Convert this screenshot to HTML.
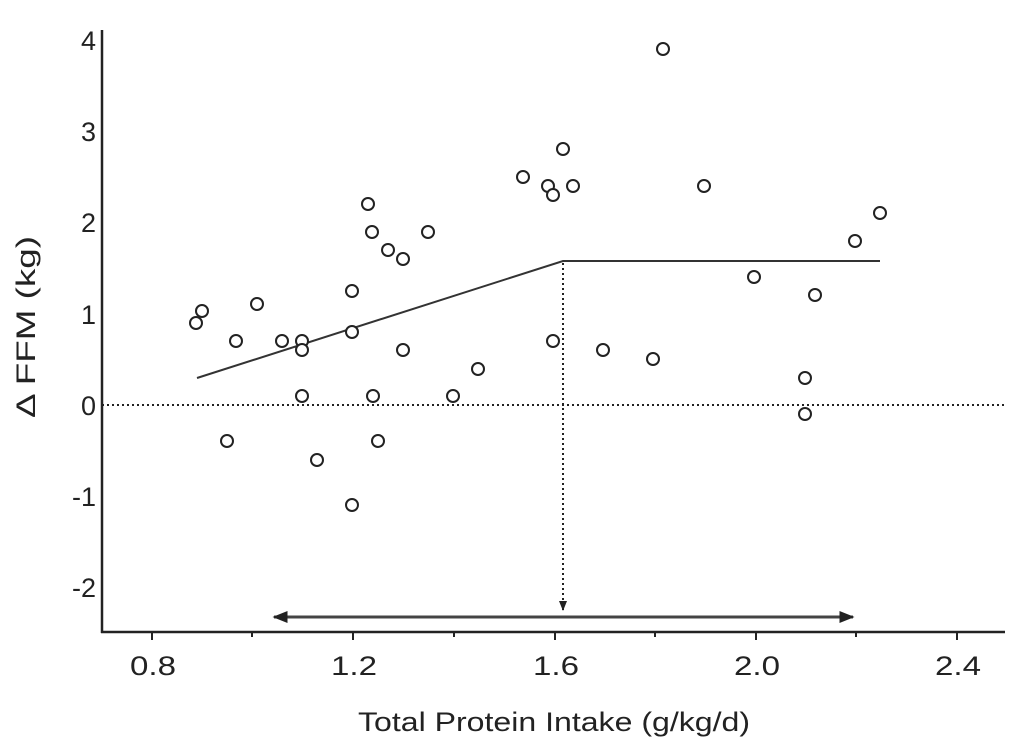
<!DOCTYPE html>
<html><head><style>
html,body{margin:0;padding:0;background:#fff;}
svg{display:block;font-family:"Liberation Sans",Arial,sans-serif;}
</style></head><body>
<svg width="1024" height="755" viewBox="0 0 1024 755" xmlns="http://www.w3.org/2000/svg">
<defs>
<marker id="ah" viewBox="0 0 10 10" refX="9" refY="5" markerWidth="5" markerHeight="5" orient="auto-start-reverse"><path d="M0,1 L10,5 L0,9 z" fill="#222"/></marker>
</defs>
<g stroke="#222" stroke-width="2.5" fill="none">
<line x1="102" y1="30" x2="102" y2="633"/>
<line x1="101" y1="632" x2="1005" y2="632"/>
<g stroke-width="2">
<line x1="152" y1="632" x2="152" y2="640"/><line x1="353" y1="632" x2="353" y2="640"/><line x1="555" y1="632" x2="555" y2="640"/><line x1="756" y1="632" x2="756" y2="640"/><line x1="957" y1="632" x2="957" y2="640"/>
<line x1="252" y1="632" x2="252" y2="637"/><line x1="454" y1="632" x2="454" y2="637"/><line x1="655" y1="632" x2="655" y2="637"/><line x1="856" y1="632" x2="856" y2="637"/>
</g>
</g>
<line x1="102" y1="405" x2="1005" y2="405" stroke="#222" stroke-width="2" stroke-dasharray="2,3"/>
<polyline points="197,378 563,261 880,261" stroke="#333" stroke-width="2" fill="none"/>
<line x1="563" y1="263" x2="563" y2="610" stroke="#222" stroke-width="2" stroke-dasharray="2,3" marker-end="url(#ah)"/>
<line x1="274" y1="617" x2="853" y2="617" stroke="#444" stroke-width="3" marker-start="url(#ah)" marker-end="url(#ah)"/>
<g fill="#fff" stroke="#222" stroke-width="2">
<circle cx="196" cy="323" r="6"/><circle cx="202" cy="311" r="6"/><circle cx="236" cy="341" r="6"/><circle cx="257" cy="304" r="6"/><circle cx="282" cy="341" r="6"/><circle cx="302" cy="341" r="6"/><circle cx="302" cy="350" r="6"/><circle cx="227" cy="441" r="6"/><circle cx="302" cy="396" r="6"/><circle cx="317" cy="460" r="6"/><circle cx="352" cy="505" r="6"/><circle cx="352" cy="332" r="6"/><circle cx="352" cy="291" r="6"/><circle cx="368" cy="204" r="6"/><circle cx="372" cy="232" r="6"/><circle cx="373" cy="396" r="6"/><circle cx="378" cy="441" r="6"/><circle cx="388" cy="250" r="6"/><circle cx="403" cy="259" r="6"/><circle cx="403" cy="350" r="6"/><circle cx="428" cy="232" r="6"/><circle cx="453" cy="396" r="6"/><circle cx="478" cy="369" r="6"/><circle cx="523" cy="177" r="6"/><circle cx="548" cy="186" r="6"/><circle cx="553" cy="195" r="6"/><circle cx="563" cy="149" r="6"/><circle cx="573" cy="186" r="6"/><circle cx="553" cy="341" r="6"/><circle cx="603" cy="350" r="6"/><circle cx="653" cy="359" r="6"/><circle cx="663" cy="49" r="6"/><circle cx="704" cy="186" r="6"/><circle cx="754" cy="277" r="6"/><circle cx="805" cy="378" r="6"/><circle cx="805" cy="414" r="6"/><circle cx="815" cy="295" r="6"/><circle cx="855" cy="241" r="6"/><circle cx="880" cy="213" r="6"/>
</g>
<g font-size="27" fill="#222" text-anchor="end">
<text x="96" y="50">4</text><text x="96" y="141">3</text><text x="96" y="232">2</text><text x="96" y="324">1</text><text x="96" y="415">0</text><text x="96" y="506">-1</text><text x="96" y="597">-2</text>
</g>
<g font-size="27" fill="#222" lengthAdjust="spacingAndGlyphs">
<text x="130" y="675" textLength="46" lengthAdjust="spacingAndGlyphs">0.8</text><text x="331" y="675" textLength="46" lengthAdjust="spacingAndGlyphs">1.2</text><text x="533" y="675" textLength="46" lengthAdjust="spacingAndGlyphs">1.6</text><text x="734" y="675" textLength="46" lengthAdjust="spacingAndGlyphs">2.0</text><text x="935" y="675" textLength="46" lengthAdjust="spacingAndGlyphs">2.4</text>
<text x="358" y="731" textLength="392" lengthAdjust="spacingAndGlyphs">Total Protein Intake (g/kg/d)</text>
<text transform="translate(35,418) rotate(-90)" textLength="182" lengthAdjust="spacingAndGlyphs">Δ FFM (kg)</text>
</g>
</svg>
</body></html>
